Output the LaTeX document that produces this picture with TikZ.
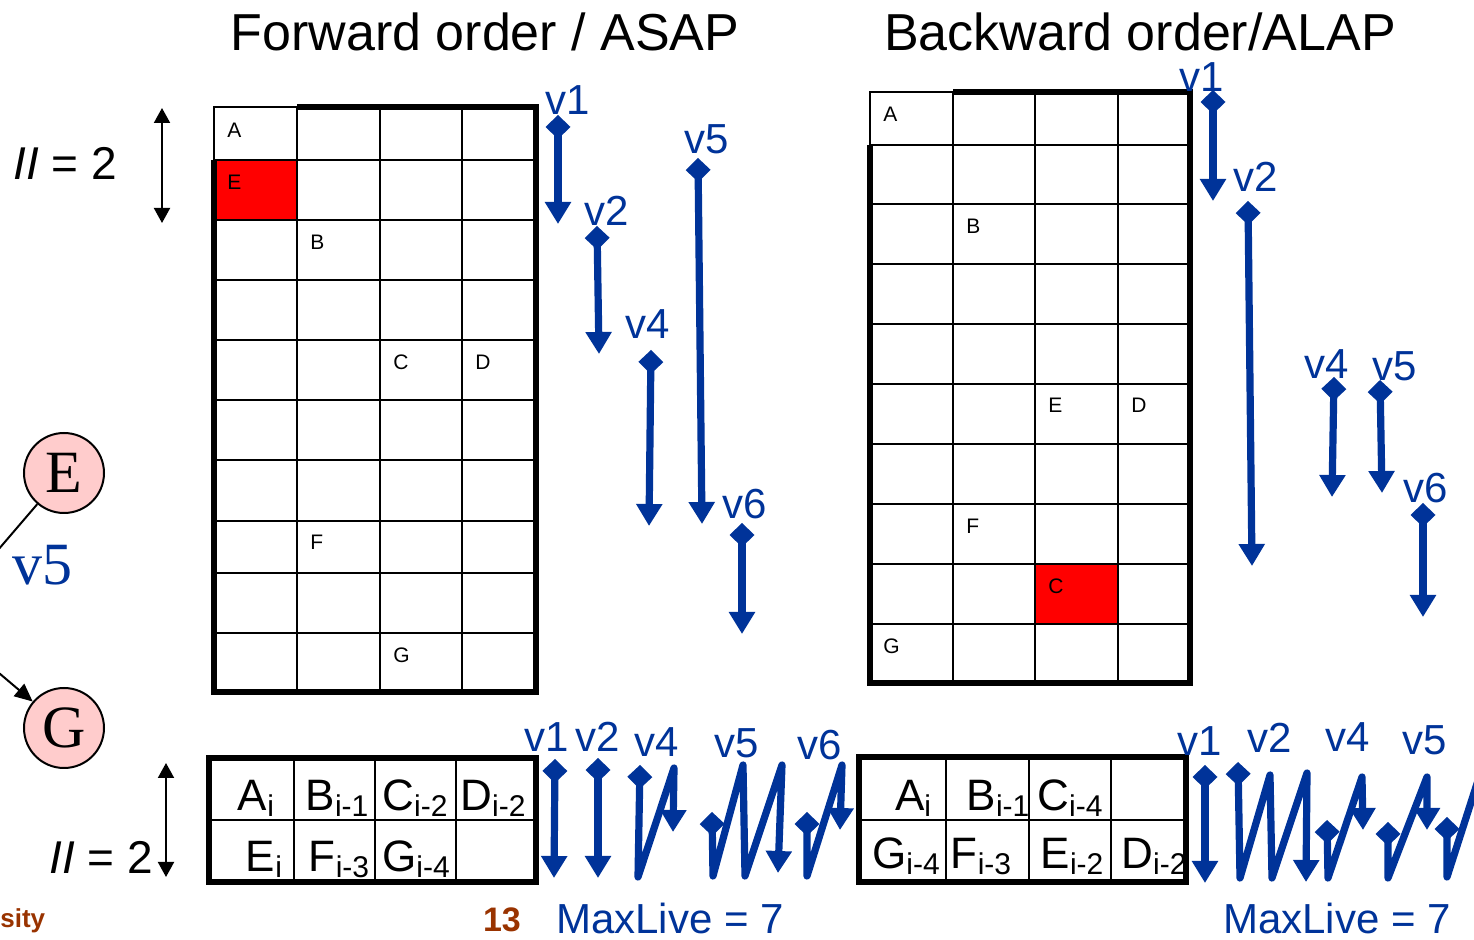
\documentclass[tikz,border=0pt]{standalone}
\usepackage{fontspec}
\setmainfont{Liberation Sans}
\newfontfamily\timesfont{Liberation Serif}
\usetikzlibrary{arrows.meta}
\usetikzlibrary{positioning}

\definecolor{liveblue}{RGB}{0,51,153}
\definecolor{pagebrown}{RGB}{153,51,0}
\definecolor{oppink}{RGB}{255,204,204}

% lowered index after an operation name in the MRT rows
\newcommand{\stage}[1]{\raisebox{-3pt}{\fontsize{15}{15}\selectfont #1}}

\tikzset{
	title/.style={inner sep=0pt, font=\fontsize{26}{30}\selectfont},
	slot/.style={anchor=west, inner sep=0pt, font=\fontsize{10.5}{12}\selectfont},
	mrtop/.style={anchor=base, inner sep=0pt, font=\fontsize{22}{24}\selectfont},
	busy/.style={fill=red},
	thingrid/.style={line width=1pt},
	frame/.style={line width=2.6pt},
	life/.style={liveblue, line width=3.6pt, line join=round, line cap=round,
		arrows={Diamond[length=12pt,width=12.5pt]-Triangle[length=11pt,width=12.5pt]}},
	lifeopen/.style={liveblue, line width=3.6pt, line join=round, line cap=round,
		arrows={Diamond[length=12pt,width=12.5pt]-}},
	lifename/.style={liveblue, inner sep=0pt, font=\fontsize{21}{24}\selectfont},
	iilabel/.style={inner sep=0pt, font=\fontsize{23}{26}\selectfont},
	span/.style={line width=1pt, arrows={Triangle[length=7.5pt,width=8pt]-Triangle[length=7.5pt,width=8pt]}},
	op/.style={draw, circle, line width=1pt, fill=oppink, minimum size=40pt, inner sep=0pt,
		font=\timesfont\fontsize{30}{30}\selectfont},
}

\begin{document}
\begin{tikzpicture}[x=0.5pt, y=-0.5pt]
	\useasboundingbox (0,0) rectangle (1474,940);

	\node (fwdtitle) [title] at (485,32) {Forward order / ASAP};
	\node (bwdtitle) [title] at (1140,32) {Backward order/ALAP};

	% forward schedule
	\fill[busy] (214,160) rectangle (297,220);
	\foreach \x in {297,380,462} \draw[thingrid] (\x,107) -- (\x,692);
	\foreach \y in {160,220,280,340,400,460,521,573,633} \draw[thingrid] (214,\y) -- (536,\y);
	\draw[thingrid] (214,160) -- (214,107) -- (297,107);
	\draw[frame] (297,107) -- (536,107) -- (536,692) -- (214,692) -- (214,160);

	\node (fA) [slot] at (227,130) {A};
	\node (fE) [slot] at (227,182) {E};
	\node (fB) [slot] at (310,242) {B};
	\node (fC) [slot] at (393,362) {C};
	\node (fD) [slot] at (475,362) {D};
	\node (fF) [slot] at (310,542) {F};
	\node (fG) [slot] at (393,655) {G};

	% backward schedule
	\fill[busy] (1035,564) rectangle (1118,624);
	\foreach \x in {953,1035,1118} \draw[thingrid] (\x,92) -- (\x,683);
	\foreach \y in {145,204,264,324,384,444,504,564,624} \draw[thingrid] (870,\y) -- (1190,\y);
	\draw[thingrid] (870,145) -- (870,92) -- (953,92);
	\draw[frame] (953,92) -- (1190,92) -- (1190,683) -- (870,683) -- (870,145);

	\node (bA) [slot] at (883,114) {A};
	\node (bB) [slot] at (966,226) {B};
	\node (bE) [slot] at (1048,405) {E};
	\node (bD) [slot] at (1131,405) {D};
	\node (bF) [slot] at (966,526) {F};
	\node (bC) [slot] at (1048,586) {C};
	\node (bG) [slot] at (883,646) {G};

	% II spans
	\node (ii1) [iilabel] at (65,163) {\textit{II} = 2};
	\coordinate (ii1t) at (162,108);
	\coordinate (ii1b) at (162,223);
	\draw[span] (ii1t) -- (ii1b);
	\node (ii2) [iilabel] at (101,857) {\textit{II} = 2};
	\coordinate (ii2t) at (166,763);
	\coordinate (ii2b) at (166,877);
	\draw[span] (ii2t) -- (ii2b);

	% part of the dependence graph
	\node (E) [op] at (64,473) {E};
	\node (G) [op] at (64,728) {G};
	\coordinate (ein) at (-20,571);
	\coordinate (gin) at (-20,657);
	\draw[line width=1pt] (ein) -- (E);
	\draw[line width=1pt, -{Triangle[length=9pt,width=8pt]}] (gin) -- (G);
	\node (ev5) [text=liveblue, inner sep=0pt, font=\timesfont\fontsize{30}{30}\selectfont] at (42,565) {v5};

	% lifetimes, forward order
	\coordinate (f1s) at (558,115);  \coordinate (f1e) at (558,224);
	\coordinate (f2s) at (597,226);  \coordinate (f2e) at (599,354);
	\coordinate (f4s) at (651,350);  \coordinate (f4e) at (649,526);
	\coordinate (f5s) at (698,158);  \coordinate (f5e) at (702,524);
	\coordinate (f6s) at (742,523);  \coordinate (f6e) at (742,634);
	\draw[life] (f1s) -- (f1e);
	\draw[life] (f2s) -- (f2e);
	\draw[life] (f4s) -- (f4e);
	\draw[life] (f5s) -- (f5e);
	\draw[life] (f6s) -- (f6e);
	\node (f1n) [lifename] at (568,100) {v1};
	\node (f2n) [lifename] at (607,211) {v2};
	\node (f4n) [lifename] at (648,324) {v4};
	\node (f5n) [lifename] at (707,139) {v5};
	\node (f6n) [lifename] at (745,504) {v6};

	% lifetimes, backward order
	\coordinate (b1s) at (1213,90);   \coordinate (b1e) at (1213,201);
	\coordinate (b2s) at (1248,201);  \coordinate (b2e) at (1252,566);
	\coordinate (b4s) at (1334,377);  \coordinate (b4e) at (1332,497);
	\coordinate (b5s) at (1380,380);  \coordinate (b5e) at (1382,493);
	\coordinate (b6s) at (1423,503);  \coordinate (b6e) at (1423,617);
	\draw[life] (b1s) -- (b1e);
	\draw[life] (b2s) -- (b2e);
	\draw[life] (b4s) -- (b4e);
	\draw[life] (b5s) -- (b5e);
	\draw[life] (b6s) -- (b6e);
	\node (b1n) [lifename] at (1202,77) {v1};
	\node (b2n) [lifename] at (1256,177) {v2};
	\node (b4n) [lifename] at (1327,364) {v4};
	\node (b5n) [lifename] at (1395,366) {v5};
	\node (b6n) [lifename] at (1426,488) {v6};

	% MRT, forward order
	\foreach \x in {294,375,456} \draw[thingrid] (\x,758) -- (\x,882);
	\draw[thingrid] (209,820) -- (536,820);
	\draw[frame] (209,758) rectangle (536,882);
	\node (mA) [mrtop] at (256,811) {A\stage{i}};
	\node (mB) [mrtop] at (337,811) {B\stage{i-1}};
	\node (mC) [mrtop] at (415,811) {C\stage{i-2}};
	\node (mD) [mrtop] at (493,811) {D\stage{i-2}};
	\node (mE) [mrtop] at (264,871) {E\stage{i}};
	\node (mF) [mrtop] at (339,871) {F\stage{i-3}};
	\node (mG) [mrtop] at (416,871) {G\stage{i-4}};

	% MRT, backward order
	\foreach \x in {946,1029,1111} \draw[thingrid] (\x,757) -- (\x,882);
	\draw[thingrid] (859,820) -- (1186,820);
	\node (nA) [mrtop] at (913,811) {A\stage{i}};
	\node (nB) [mrtop] at (998,811) {B\stage{i-1}};
	\node (nC) [mrtop] at (1070,811) {C\stage{i-4}};
	\node (nG) [mrtop] at (906,869) {G\stage{i-4}};
	\node (nF) [mrtop] at (981,869) {F\stage{i-3}};
	\node (nE) [mrtop] at (1072,869) {E\stage{i-2}};
	\node (nD) [mrtop] at (1154,869) {D\stage{i-2}};
	\draw[frame] (859,757) rectangle (1186,882);

	% wrapped lifetimes, forward order
	\coordinate (m1s) at (555,759);  \coordinate (m1e) at (554,878);
	\coordinate (m2s) at (598,758);  \coordinate (m2e) at (598,878);
	\coordinate (m4s) at (640,765);  \coordinate (m4e) at (673,832);
	\coordinate (m5s) at (712,812);  \coordinate (m5e) at (778,873);
	\coordinate (m6s) at (807,812);  \coordinate (m6e) at (840,830);
	\draw[life] (m1s) -- (m1e);
	\draw[life] (m2s) -- (m2e);
	\draw[life] (m4s) -- (638,877) -- (674,768) -- (m4e);
	\draw[life] (m5s) -- (713,876) -- (743,765) -- (745,876) -- (782,765) -- (m5e);
	\draw[life] (m6s) -- (807,876) -- (842,765) -- (m6e);
	\node (m1n) [lifename] at (547,737) {v1};
	\node (m2n) [lifename] at (598,737) {v2};
	\node (m4n) [lifename] at (657,742) {v4};
	\node (m5n) [lifename] at (737,743) {v5};
	\node (m6n) [lifename] at (820,745) {v6};

	% wrapped lifetimes, backward order
	\coordinate (n1s) at (1205,765);  \coordinate (n1e) at (1205,883);
	\coordinate (n2s) at (1238,762);  \coordinate (n2e) at (1306,882);
	\coordinate (n4s) at (1327,820);  \coordinate (n4e) at (1363,830);
	\coordinate (n5s) at (1388,822);  \coordinate (n5e) at (1427,830);
	\coordinate (n6s) at (1447,817);  \coordinate (n6e) at (1483,765);
	\draw[life] (n1s) -- (n1e);
	\draw[life] (n2s) -- (1240,878) -- (1270,775) -- (1272,878) -- (1307,773) -- (n2e);
	\draw[life] (n4s) -- (1328,878) -- (1362,777) -- (n4e);
	\draw[life] (n5s) -- (1388,878) -- (1427,777) -- (n5e);
	\draw[lifeopen] (n6s) -- (1447,877) -- (n6e);
	\node (n1n) [lifename] at (1200,741) {v1};
	\node (n2n) [lifename] at (1270,738) {v2};
	\node (n4n) [lifename] at (1348,737) {v4};
	\node (n5n) [lifename] at (1425,740) {v5};

	% footer
	\node (fwdmax) [lifename] at (670,918) {MaxLive = 7};
	\node (bwdmax) [lifename] at (1337,918) {MaxLive = 7};
	\node (pagenum) [text=pagebrown, inner sep=0pt, font=\bfseries\fontsize{17}{20}\selectfont] at (502,920) {13};
	\node (footer) [anchor=west, text=pagebrown, inner sep=0pt, font=\bfseries\fontsize{13}{16}\selectfont] at (0,921) {sity};
\end{tikzpicture}
\end{document}
